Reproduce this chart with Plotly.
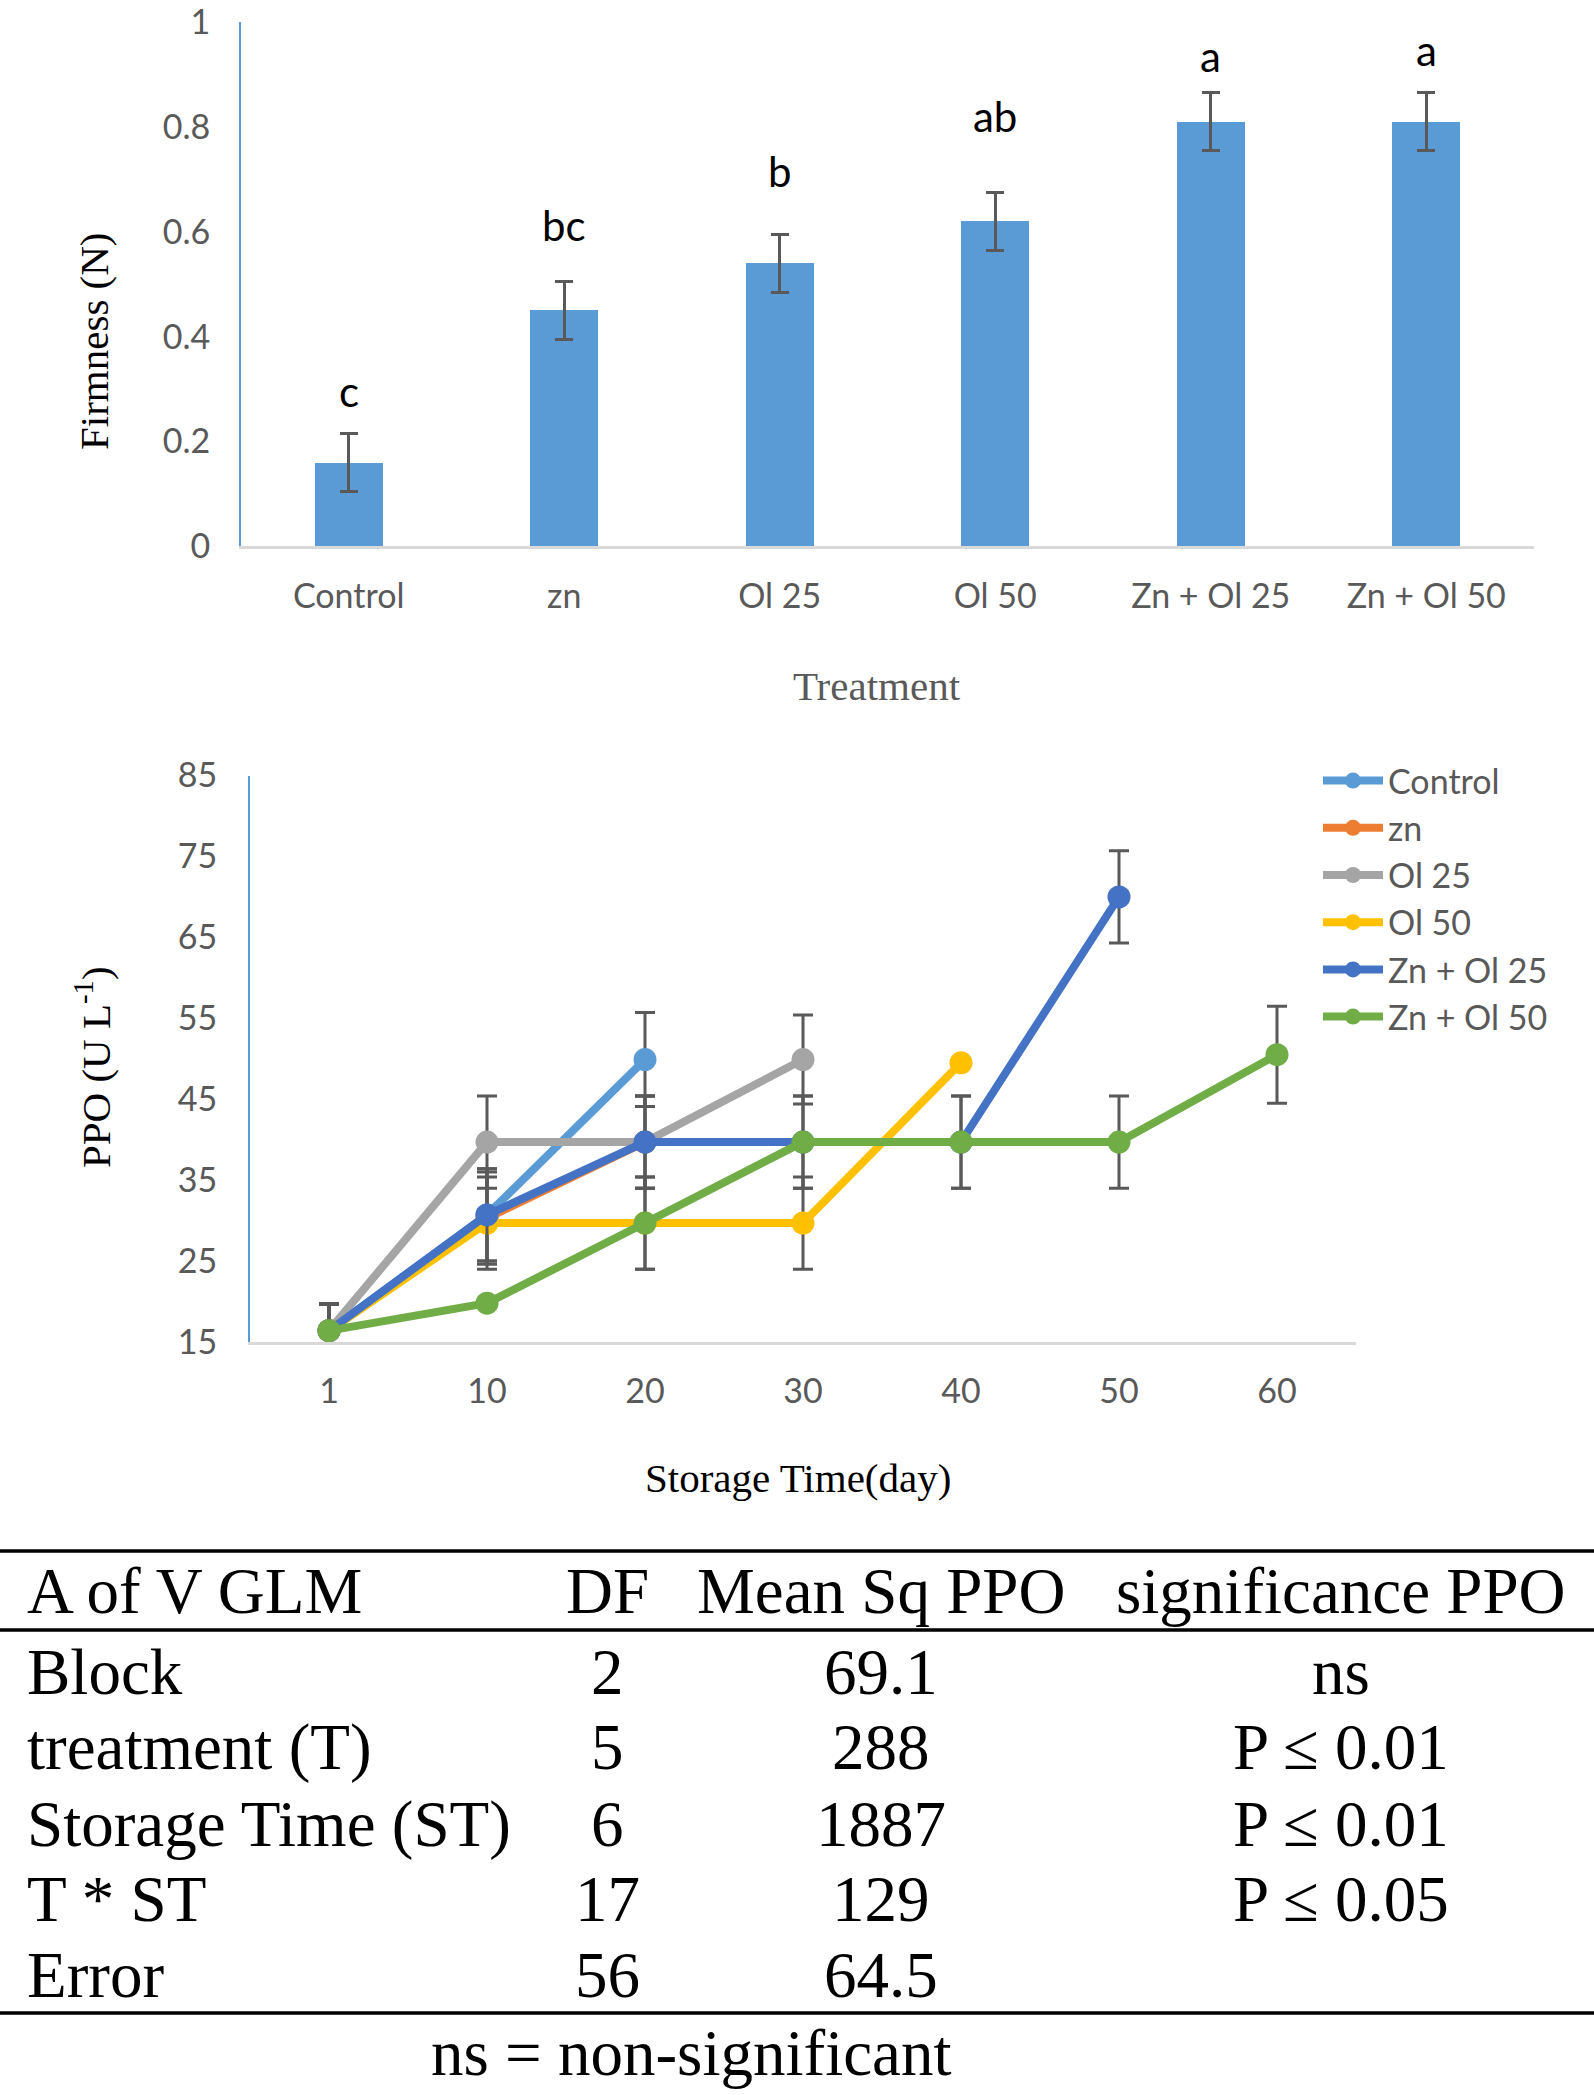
import plotly.graph_objects as go

W, H = 1594, 2095

# ---------------- data: firmness bar chart ----------------
treatments = ["Control", "zn", "Ol 25", "Ol 50", "Zn + Ol 25", "Zn + Ol 50"]
firmness = [0.16, 0.45, 0.54, 0.62, 0.81, 0.81]
firmness_err = [0.055, 0.055, 0.055, 0.055, 0.055, 0.055]
letters = ["c", "bc", "b", "ab", "a", "a"]
letter_y = [0.2645, 0.58, 0.683, 0.788, 0.902, 0.915]
firm_ticks = [0, 0.2, 0.4, 0.6, 0.8, 1]
firm_ticktext = ["0", "0.2", "0.4", "0.6", "0.8", "1"]

# ---------------- data: PPO line chart ----------------
days = ["1", "10", "20", "30", "40", "50", "60"]
series_names = ["Control", "zn", "Ol 25", "Ol 50", "Zn + Ol 25", "Zn + Ol 50"]
ppo_control = [16.4, 30.7, 49.9]
ppo_zn = [16.4, 30.3, 39.7]
ppo_ol25 = [16.4, 39.7, 39.7, 49.9]
ppo_ol50 = [16.4, 29.7, 29.7, 29.7, 49.5]
ppo_znol25 = [16.4, 30.7, 39.7, 39.7, 39.7, 70.0]
ppo_znol50 = [16.4, 19.8, 29.7, 39.7, 39.7, 39.7, 50.5]
err_control = [3.3, 5.7, 5.8]
err_zn = [3.3, 5.7, 5.7]
err_ol25 = [3.3, 5.7, 5.7, 5.5]
err_ol50 = [3.3, 5.7, 5.7, 5.7, 0]
err_znol25 = [3.3, 5.7, 5.7, 5.7, 5.7, 5.7]
err_znol50 = [3.3, 0, 5.7, 5.7, 5.7, 5.7, 6.0]
ppo_ticks = [15, 25, 35, 45, 55, 65, 75, 85]

# ---------------- data: ANOVA table ----------------
table_header = ["A of V GLM", "DF", "Mean Sq PPO", "significance PPO"]
anova_source = ["Block", "treatment (T)", "Storage Time (ST)", "T * ST", "Error"]
anova_df = ["2", "5", "6", "17", "56"]
anova_ms = ["69.1", "288", "1887", "129", "64.5"]
anova_sig = ["ns", "P \u2264 0.01", "P \u2264 0.01", "P \u2264 0.05", ""]
footnote = "ns = non-significant"

# ---------------- styles ----------------
colors = ["#5B9BD5", "#ED7D31", "#A5A5A5", "#FFC000", "#4472C4", "#70AD47"]
BAR_COLOR = "#5B9BD5"
ERR_COLOR = "#595959"
TICK_COLOR = "#595959"
SANS = "Lato"
SERIF = "Liberation Serif"


def px(xp):
    return xp / W


def py(yp):
    return 1 - yp / H


fig = go.Figure()

fig.add_trace(go.Bar(
    x=treatments, y=firmness, width=0.315,
    marker=dict(color=BAR_COLOR, line=dict(width=0)),
    error_y=dict(type="data", array=firmness_err, color=ERR_COLOR, thickness=3, width=9),
    xaxis="x", yaxis="y", showlegend=False,
))

ppo_series = [ppo_control, ppo_zn, ppo_ol25, ppo_ol50, ppo_znol25, ppo_znol50]
ppo_errs = [err_control, err_zn, err_ol25, err_ol50, err_znol25, err_znol50]
for name, vals, errs, col in zip(series_names, ppo_series, ppo_errs, colors):
    fig.add_trace(go.Scatter(
        x=days[:len(vals)], y=vals, name=name, mode="lines+markers",
        line=dict(color=col, width=8),
        marker=dict(color=col, size=23),
        error_y=dict(type="data", array=errs, color=ERR_COLOR, thickness=3, width=10),
        xaxis="x2", yaxis="y2",
    ))

annotations = []
for t, lt, ly in zip(treatments, letters, letter_y):
    annotations.append(dict(x=t, y=ly, xref="x", yref="y", text=lt, showarrow=False,
                            yanchor="bottom", yshift=-10,
                            font=dict(family=SANS, size=42, color="black")))

annotations += [
    dict(x=px(877), y=py(685.5), xref="paper", yref="paper", text="Treatment",
         showarrow=False, xanchor="center", yanchor="middle",
         font=dict(family=SERIF, size=41, color="#595959")),
    dict(x=px(94), y=py(341), xref="paper", yref="paper", text="Firmness (N)",
         showarrow=False, textangle=-90, xanchor="center", yanchor="middle",
         font=dict(family=SERIF, size=41, color="black")),
    dict(x=px(798), y=py(1478), xref="paper", yref="paper", text="Storage Time(day)",
         showarrow=False, xanchor="center", yanchor="middle",
         font=dict(family=SERIF, size=41, color="black")),
    dict(x=px(93), y=py(1067), xref="paper", yref="paper", text="PPO (U L<sup>-1</sup>)",
         showarrow=False, textangle=-90, xanchor="center", yanchor="middle",
         font=dict(family=SERIF, size=41, color="black")),
]

# table text
TFS = 65
col_x = [25, 607, 881, 1341]
col_anchor = ["left", "center", "center", "center"]
row_baselines = [1613, 1694, 1769, 1846, 1921, 1997]
off = 0.3375 * TFS
rows = [table_header] + [list(r) for r in zip(anova_source, anova_df, anova_ms, anova_sig)]
for rb, row in zip(row_baselines, rows):
    for cx, anc, txt in zip(col_x, col_anchor, row):
        if not txt:
            continue
        annotations.append(dict(x=px(cx), y=py(rb - off), xref="paper", yref="paper",
                                text=txt, showarrow=False, xanchor=anc, yanchor="middle",
                                font=dict(family=SERIF, size=TFS, color="black")))
annotations.append(dict(x=px(691), y=py(2074.5 - off), xref="paper", yref="paper",
                        text=footnote, showarrow=False, xanchor="center", yanchor="middle",
                        font=dict(family=SERIF, size=TFS, color="black")))

shapes = []
for yl in [1551, 1630, 2013]:
    shapes.append(dict(type="line", xref="paper", yref="paper", x0=0, x1=1,
                       y0=py(yl), y1=py(yl), line=dict(color="black", width=3.5)))

axis_common = dict(showgrid=False, zeroline=False, ticks="", automargin=False,
                   ticklabeloverflow="allow",
                   tickfont=dict(family=SANS, size=34, color=TICK_COLOR))

fig.update_layout(
    width=W, height=H, autosize=False,
    margin=dict(l=0, r=0, t=0, b=0, pad=0),
    paper_bgcolor="white", plot_bgcolor="white",
    bargap=0,
    xaxis=dict(domain=[px(241), px(1534)], type="category", range=[-0.5, 5.5],
               showline=True, linecolor="#D9D9D9", linewidth=3, anchor="y",
               ticklabelstandoff=18, **axis_common),
    yaxis=dict(domain=[py(546.4), py(22)], range=[0, 1], tickvals=firm_ticks,
               ticktext=firm_ticktext, showline=True, linecolor="#5B9BD5", linewidth=2,
               anchor="x", ticklabelstandoff=22, **axis_common),
    xaxis2=dict(domain=[px(250), px(1356)], type="category", categoryorder="array",
                categoryarray=days, range=[-0.5, 6.5], showline=True, linecolor="#D9D9D9",
                linewidth=3, anchor="y2", ticklabelstandoff=17, **axis_common),
    yaxis2=dict(domain=[py(1342), py(775.5)], range=[15, 85], tickvals=ppo_ticks,
                showline=True, linecolor="#5B9BD5", linewidth=2, anchor="x2",
                ticklabelstandoff=24, **axis_common),
    legend=dict(x=px(1318), y=py(752), xanchor="left", yanchor="top",
                font=dict(family=SANS, size=34, color=TICK_COLOR),
                bgcolor="rgba(0,0,0,0)", itemwidth=60, tracegroupgap=0),
    annotations=annotations,
    shapes=shapes,
)

fig.write_html("out.html", config={"displayModeBar": False},
               post_script="document.body.style.margin='0';")
